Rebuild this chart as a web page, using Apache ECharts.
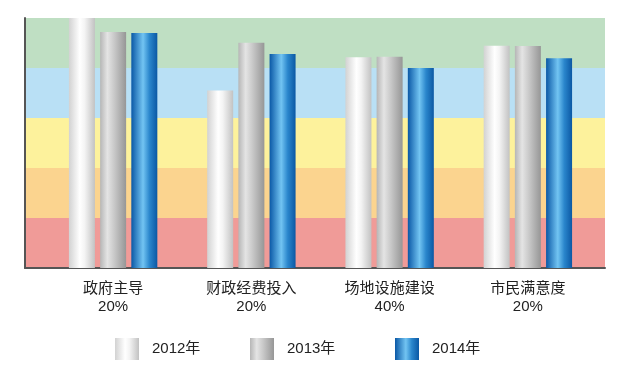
<!DOCTYPE html>
<html>
<head>
<meta charset="utf-8">
<script src="https://cdn.jsdelivr.net/npm/echarts@6/dist/echarts.min.js"></script>
<style>
  html, body { margin: 0; padding: 0; background: #fff; }
  #chart { width: 620px; height: 376px; }
</style>
</head>
<body>
<div id="chart"></div>
<script>
// indicator groups (name + weight) and the score per year
const categories = ["政府主导\n20%", "财政经费投入\n20%", "场地设施建设\n40%", "市民满意度\n20%"]
const years = ["2012年", "2013年", "2014年"]
const values2012 = [100, 71, 84.3, 88.9]
const values2013 = [94.4, 90.1, 84.5, 88.8]
const values2014 = [94, 85.6, 80, 83.9]
// background bands, bottom to top
const bandColors = ["#f09b98", "#fbd48f", "#fdf29c", "#b9e0f5", "#bfdfc3"]

const font = "'Liberation Sans', 'Noto Sans CJK SC', sans-serif"

const grad = (stops) => new echarts.graphic.LinearGradient(0, 0, 1, 0,
  stops.map(([offset, color]) => ({ offset, color })))

const fills = [
  grad([[0, "#d2d2d2"], [0.42, "#ffffff"], [0.6, "#f4f4f4"], [1, "#c2c2c2"]]),
  grad([[0, "#b6b6b6"], [0.28, "#e4e4e4"], [0.55, "#c8c8c8"], [1, "#969696"]]),
  grad([[0, "#0a58a6"], [0.45, "#72c4f2"], [0.7, "#2a86cc"], [1, "#0b58a4"]]),
]
const seriesData = [values2012, values2013, values2014]

const chart = echarts.init(document.getElementById("chart"))

chart.setOption({
  animation: false,
  textStyle: { fontFamily: font },
  grid: [
    { left: 25, right: 15, top: 18, height: 250 },
    { left: 44, right: 23, top: 18, height: 250 },
  ],
  xAxis: [
    {
      gridIndex: 0,
      type: "category",
      data: [""],
      axisLine: { lineStyle: { color: "#555", width: 2 } },
      axisTick: { show: false },
      axisLabel: { show: false },
    },
    {
      gridIndex: 1,
      type: "category",
      data: categories,
      axisLine: { show: false },
      axisTick: { show: false },
      axisLabel: {
        margin: 12,
        fontSize: 15,
        lineHeight: 18,
        color: "#222",
        fontFamily: font,
      },
    },
  ],
  yAxis: [
    {
      gridIndex: 0,
      type: "value",
      min: 0,
      max: 100,
      interval: 20,
      axisLine: { show: true, lineStyle: { color: "#555", width: 2 } },
      axisTick: { show: false },
      axisLabel: { show: false },
      splitLine: { show: false },
      splitArea: { show: true, areaStyle: { color: bandColors, opacity: 1 } },
    },
    {
      gridIndex: 1,
      type: "value",
      min: 0,
      max: 100,
      show: false,
    },
  ],
  legend: years.map((y, i) => ({
    data: [y],
    left: [110, 245, 390][i],
    top: 333,
    itemWidth: 24,
    itemHeight: 22,
    icon: "rect",
    textStyle: { fontSize: 15, color: "#222", fontFamily: font, padding: [0, 0, 0, 8] },
  })),
  series: years.map((y, i) => ({
    name: y,
    type: "bar",
    xAxisIndex: 1,
    yAxisIndex: 1,
    data: seriesData[i],
    barWidth: 26,
    barGap: "20%",
    itemStyle: { color: fills[i] },
  })),
})
</script>
</body>
</html>
